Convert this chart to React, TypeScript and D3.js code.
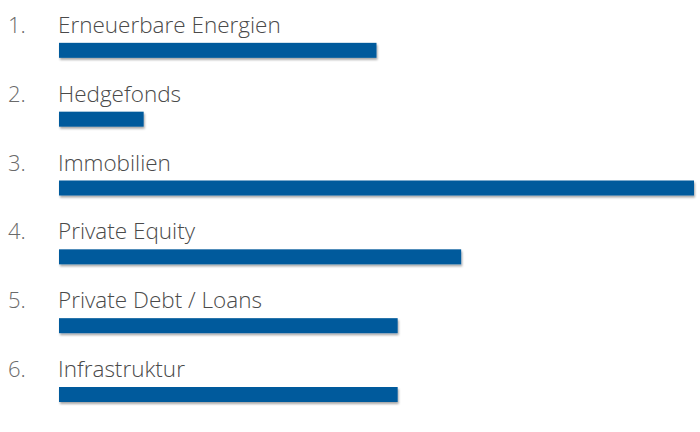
import React, { useRef, useEffect } from 'react'
import * as d3 from 'd3'

const ranks = ['1.', '2.', '3.', '4.', '5.', '6.']
const categories = [
	'Erneuerbare Energien',
	'Hedgefonds',
	'Immobilien',
	'Private Equity',
	'Private Debt / Loans',
	'Infrastruktur',
]
const values = [15, 4, 30, 19, 16, 16]

const App = () => {
	const svgRef = useRef<SVGSVGElement | null>(null)

	const width = 700,
		height = 432

	const x = d3.scaleLinear().domain([0, 30]).range([59, 694])
	const y = d3
		.scaleBand()
		.domain(categories)
		.range([-12, 401])
		.paddingInner(0)

	useEffect(() => {
		const svg = d3.select(svgRef.current)
		svg.selectAll('*').remove()

		const defs = svg.append('defs')
		const f = defs
			.append('filter')
			.attr('id', 'shadow')
			.attr('x', '-5%')
			.attr('y', '-50%')
			.attr('width', '110%')
			.attr('height', '200%')
		f.append('feDropShadow')
			.attr('dx', 1)
			.attr('dy', 2)
			.attr('stdDeviation', 1.2)
			.attr('flood-color', '#000')
			.attr('flood-opacity', 0.35)

		const row = svg
			.selectAll('g.row')
			.data(categories)
			.enter()
			.append('g')
			.attr('class', 'row')
			.attr('transform', (d) => `translate(0,${y(d)! + y.bandwidth()})`)

		// bar sits at bottom of band, label above
		row
			.append('rect')
			.attr('x', x(0))
			.attr('y', -14)
			.attr('height', 15)
			.attr('width', (d, i) => x(values[i]) - x(0))
			.attr('fill', '#005a9c')
			.attr('filter', 'url(#shadow)')

		row
			.append('text')
			.attr('x', 8)
			.attr('y', -24)
			.attr('fill', '#6a6a6a')
			.attr('font-size', 22)
			.attr('font-weight', 300)
			.text((d, i) => ranks[i])

		row
			.append('text')
			.attr('x', 58)
			.attr('y', -24)
			.attr('fill', '#4a4a4a')
			.attr('font-size', 22.5)
			.attr('font-weight', 300)
			.text((d) => d)
	}, [])

	return (
		<svg
			ref={svgRef}
			width={width}
			height={height}
			style={{
				position: 'absolute',
				left: 0,
				top: 0,
				background: '#fff',
				fontFamily: "'Open Sans', 'Noto Sans', sans-serif",
			}}
		></svg>
	)
}

export default App
